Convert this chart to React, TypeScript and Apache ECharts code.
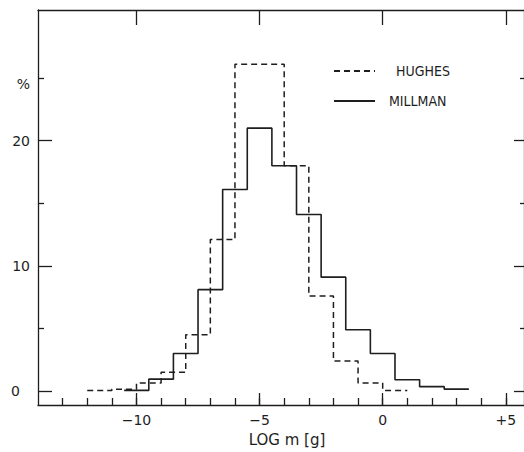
import React, { useEffect, useRef } from "react";
import * as echarts from "echarts";

// Hughes histogram: integer bin edges (log m), percentages
const hughesEdges = [-12, -11, -10, -9, -8, -7, -6, -5, -4, -3, -2, -1, 0, 1];
const hughesValues = [0.05, 0.15, 0.65, 1.5, 4.5, 12.1, 26.1, 26.1, 18.0, 7.6, 2.4, 0.65, 0.05];

// Millman histogram: half-integer bin edges
const millmanEdges = [-10.5, -9.5, -8.5, -7.5, -6.5, -5.5, -4.5, -3.5, -2.5, -1.5, -0.5, 0.5, 1.5, 2.5, 3.5];
const millmanValues = [0.05, 0.95, 3.0, 8.1, 16.1, 21.0, 18.0, 14.1, 9.1, 4.9, 3.0, 0.9, 0.35, 0.15];

const xMinorTicks = [-13, -12, -11, -10, -9, -8, -7, -6, -5, -4, -3, -2, -1, 0, 1, 2, 3, 4, 5];
const xMajorTicks = [-10, -5, 0, 5];
const xTickLabels = ["\u221210", "\u22125", "0", "+5"];
const yMajorTicks = [0, 10, 20];
const yMinorTicks = [5, 15, 25];
const yLabelValues = [0, 10, 20, 25];

const X_MIN = -14;
const X_MAX = 5.74;
const Y_MIN = -1.115;
const Y_MAX = 30.44;

function stepData(edges: number[], values: number[]) {
  const d: number[][] = values.map((v, i) => [edges[i], v]);
  d.push([edges[edges.length - 1], values[values.length - 1]]);
  return d;
}

const INK = "#1e1e1e";
const FONT = "'DejaVu Sans', sans-serif";
const COND = "'DejaVu Sans Condensed', 'Liberation Sans Narrow', 'DejaVu Sans', sans-serif";

export default function App() {
  const ref = useRef<HTMLDivElement>(null);
  useEffect(() => {
    if (!ref.current) return;
    const chart = echarts.init(ref.current, null, { renderer: "svg" });
    const axisLine = { show: true, onZero: false, lineStyle: { color: INK, width: 1.3 } };
    const noLine = { show: false, onZero: false };
    const tick = (vals: number[], len: number) => ({
      show: true,
      inside: true,
      length: len,
      customValues: vals,
      lineStyle: { color: INK, width: 1.3 },
    });
    const base = { type: "value" as const, splitLine: { show: false } };
    chart.setOption({
      animation: false,
      backgroundColor: "#ffffff",
      grid: { left: 38, right: -1, top: 10, bottom: 46, containLabel: false },
      legend: {
        orient: "vertical",
        left: 333,
        top: 64,
        padding: 0,
        itemWidth: 41,
        itemHeight: 14,
        itemGap: 16,
        selectedMode: false,
        itemStyle: { opacity: 0, borderWidth: 0 },
        formatter: (n: string) => (n === "HUGHES" ? "{h|HUGHES}" : "{m|MILLMAN}"),
        textStyle: {
          color: INK,
          fontFamily: COND,
          fontSize: 14,
          rich: {
            h: { fontFamily: COND, fontSize: 14, color: INK, padding: [0, 0, 0, 16] },
            m: { fontFamily: COND, fontSize: 14, color: INK, padding: [0, 0, 0, 9] },
          },
        },
        data: ["HUGHES", "MILLMAN"],
      },
      xAxis: [
        {
          ...base,
          min: X_MIN,
          max: X_MAX,
          position: "bottom",
          axisLine,
          axisTick: tick(xMinorTicks, 7),
          axisLabel: {
            show: true,
            customValues: xMajorTicks,
            margin: 8,
            color: INK,
            fontFamily: FONT,
            fontSize: 14,
            formatter: (v: number) => xTickLabels[xMajorTicks.indexOf(v)] ?? "",
          },
          name: "LOG m [g]",
          nameLocation: "middle",
          nameGap: 27,
          nameTextStyle: { color: INK, fontFamily: FONT, fontSize: 15, padding: [0, 0, 0, 12] },
        },
        {
          ...base,
          min: X_MIN,
          max: X_MAX,
          position: "bottom",
          axisLine: noLine,
          axisTick: tick(xMajorTicks, 12),
          axisLabel: { show: false },
        },
        {
          ...base,
          min: X_MIN,
          max: X_MAX,
          position: "top",
          axisLine,
          axisTick: tick(xMajorTicks, 15),
          axisLabel: { show: false },
        },
      ],
      yAxis: [
        {
          ...base,
          min: Y_MIN,
          max: Y_MAX,
          position: "left",
          axisLine,
          axisTick: tick(yMinorTicks, 6),
          axisLabel: {
            show: true,
            customValues: yLabelValues,
            margin: 8,
            color: INK,
            fontFamily: FONT,
            fontSize: 14,
            formatter: (v: number) => (v === 25 ? "{p|%}" : v === 0 ? "{z|0}" : String(v)),
            rich: {
              p: { fontFamily: FONT, fontSize: 14, color: INK, padding: [11, 0, 0, 0] },
              z: { fontFamily: FONT, fontSize: 14, color: INK, padding: [0, 10, 0, 0] },
            },
          },
        },
        {
          ...base,
          min: Y_MIN,
          max: Y_MAX,
          position: "left",
          axisLine: noLine,
          axisTick: tick(yMajorTicks, 14),
          axisLabel: { show: false },
        },
        {
          ...base,
          min: Y_MIN,
          max: Y_MAX,
          position: "right",
          axisLine,
          axisTick: tick(yMajorTicks, 10),
          axisLabel: { show: false },
        },
        {
          ...base,
          min: Y_MIN,
          max: Y_MAX,
          position: "right",
          axisLine: noLine,
          axisTick: tick(yMinorTicks, 4),
          axisLabel: { show: false },
        },
      ],
      series: [
        {
          name: "HUGHES",
          type: "line",
          step: "end",
          xAxisIndex: 0,
          yAxisIndex: 0,
          symbol: "none",
          data: stepData(hughesEdges, hughesValues),
          lineStyle: { color: INK, width: 1.5, type: [6, 4] },
          itemStyle: { color: INK },
        },
        {
          name: "MILLMAN",
          type: "line",
          step: "end",
          xAxisIndex: 0,
          yAxisIndex: 0,
          symbol: "none",
          data: stepData(millmanEdges, millmanValues),
          lineStyle: { color: INK, width: 1.6, type: "solid" },
          itemStyle: { color: INK },
        },
      ],
    });
    return () => chart.dispose();
  }, []);
  return (
    <div
      ref={ref}
      style={{ position: "absolute", left: 0, top: 0, width: 524, height: 452, background: "#fff" }}
    />
  );
}
